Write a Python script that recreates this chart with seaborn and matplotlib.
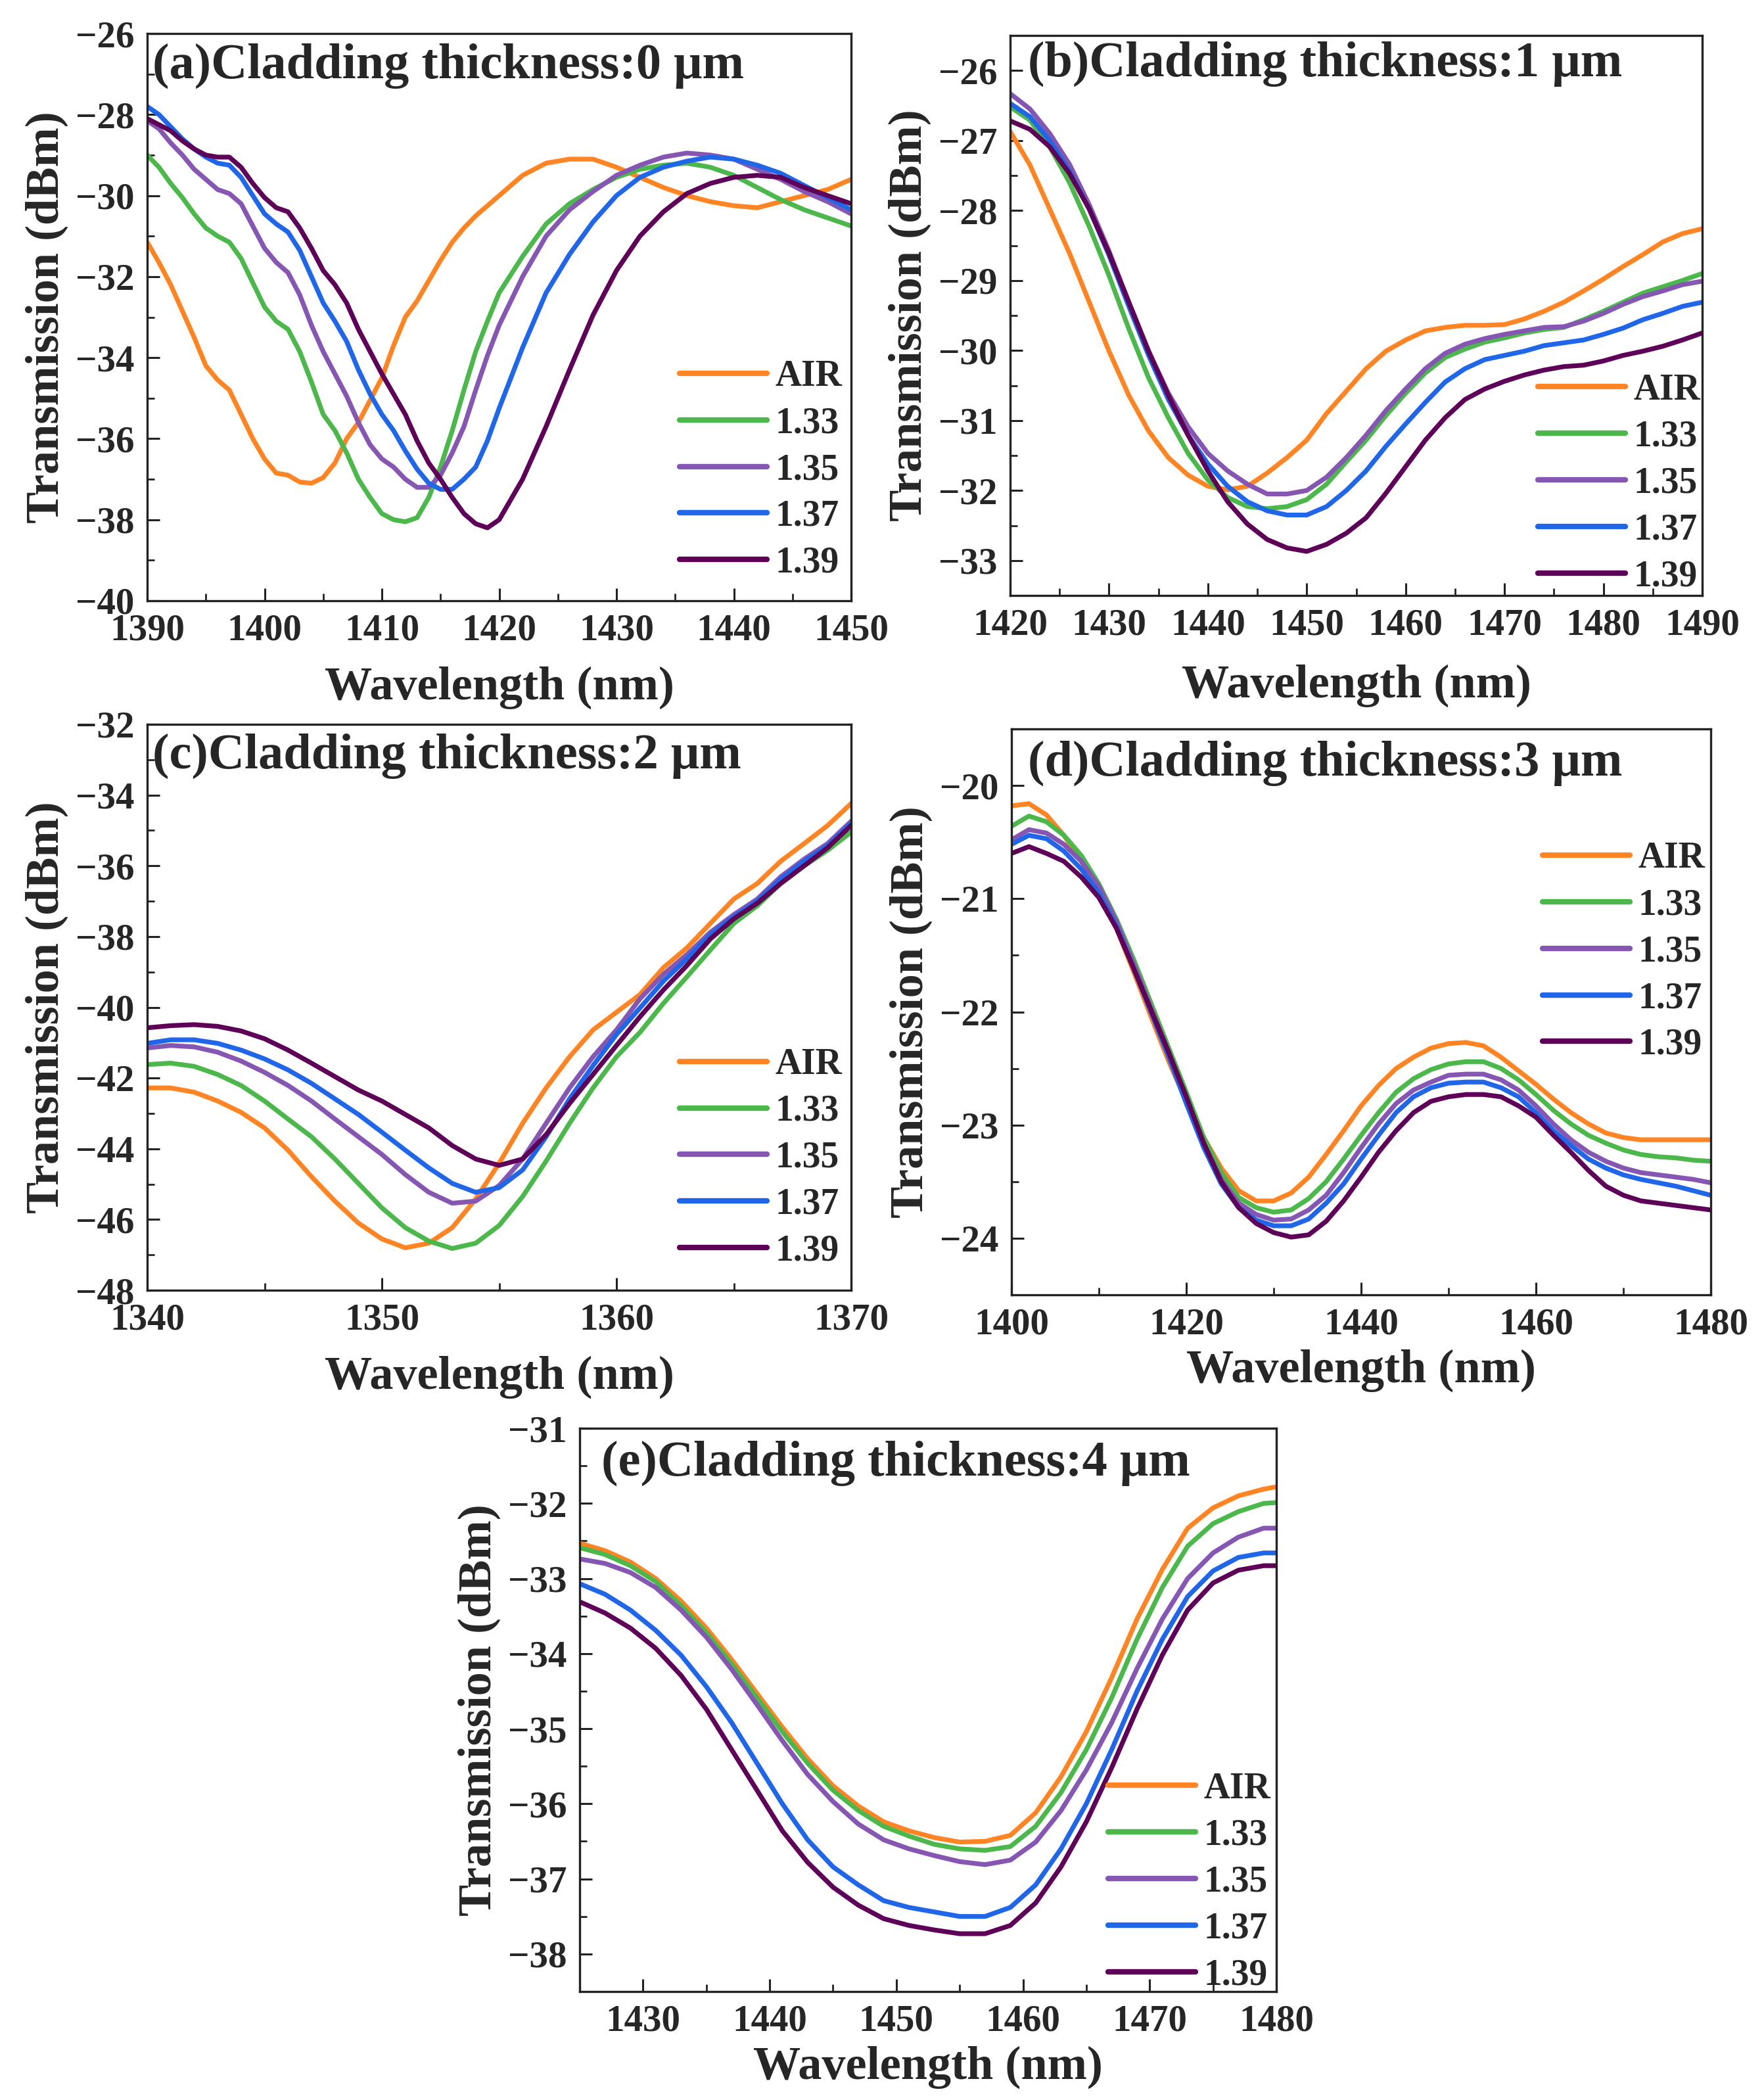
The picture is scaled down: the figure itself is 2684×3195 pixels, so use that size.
import numpy as np
import pandas as pd
import matplotlib
matplotlib.use("Agg")
import matplotlib.pyplot as plt
from matplotlib.ticker import MultipleLocator
import seaborn as sns

sns.set_theme(style="ticks")
plt.rcParams['font.family'] = ['Liberation Serif', 'DejaVu Serif']
plt.rcParams['font.weight'] = 'bold'
plt.rcParams['axes.unicode_minus'] = True

media = ["AIR", "1.33", "1.35", "1.37", "1.39"]
colors = {"AIR": "#FF8424", "1.33": "#4CB84C", "1.35": "#8657B2",
          "1.37": "#1F66E8", "1.39": "#5E0058"}

# ---------------- panel (a) : 0 um ----------------
a_wl = list(range(1390, 1421)) + list(range(1422, 1451, 2))
a_air = [-31.15, -31.65, -32.2, -32.85, -33.5, -34.2, -34.55, -34.8, -35.4, -36.0,
         -36.5, -36.85, -36.9, -37.07, -37.1, -36.96, -36.6, -36.0, -35.6, -35.05,
         -34.5, -33.7, -33.0, -32.6, -32.1, -31.6, -31.15, -30.8, -30.5, -30.25,
         -30.0, -29.5, -29.2, -29.1, -29.1, -29.3, -29.55, -29.8, -30.0, -30.15,
         -30.25, -30.3, -30.15, -30.0, -29.85, -29.6]
a_133 = [-29.0, -29.3, -29.7, -30.05, -30.45, -30.8, -31.0, -31.15, -31.55, -32.15,
         -32.75, -33.1, -33.3, -33.85, -34.6, -35.4, -35.8, -36.35, -37.0, -37.45,
         -37.85, -38.0, -38.05, -37.95, -37.45, -36.7, -35.8, -34.8, -33.85, -33.1,
         -32.4, -31.5, -30.7, -30.2, -29.85, -29.55, -29.35, -29.25, -29.2, -29.3,
         -29.5, -29.8, -30.1, -30.35, -30.55, -30.75]
a_135 = [-28.15, -28.35, -28.7, -29.0, -29.35, -29.6, -29.85, -29.95, -30.2, -30.75,
         -31.3, -31.65, -31.9, -32.45, -33.2, -33.85, -34.4, -34.95, -35.6, -36.15,
         -36.5, -36.7, -37.0, -37.2, -37.2, -36.9, -36.35, -35.7, -34.8, -33.95,
         -33.2, -32.0, -31.0, -30.35, -29.9, -29.5, -29.25, -29.05, -28.95, -29.0,
         -29.1, -29.35, -29.6, -29.9, -30.15, -30.45]
a_137 = [-27.8, -28.0, -28.3, -28.6, -28.85, -29.05, -29.2, -29.25, -29.55, -30.0,
         -30.45, -30.7, -30.9, -31.35, -32.0, -32.65, -33.1, -33.6, -34.3, -34.9,
         -35.4, -35.8, -36.3, -36.75, -37.1, -37.25, -37.25, -37.0, -36.7, -36.05,
         -35.25, -33.75, -32.4, -31.45, -30.65, -30.0, -29.55, -29.3, -29.15, -29.05,
         -29.1, -29.25, -29.45, -29.75, -30.05, -30.35]
a_139 = [-28.1, -28.25, -28.4, -28.65, -28.85, -29.0, -29.05, -29.05, -29.3, -29.7,
         -30.05, -30.3, -30.4, -30.8, -31.3, -31.85, -32.2, -32.65, -33.3, -33.85,
         -34.4, -34.9, -35.4, -36.05, -36.6, -37.0, -37.45, -37.85, -38.1, -38.2,
         -38.0, -37.0, -35.7, -34.3, -32.95, -31.85, -31.0, -30.4, -29.95, -29.7,
         -29.55, -29.5, -29.55, -29.8, -30.0, -30.2]

# ---------------- panel (b) : 1 um ----------------
b_wl = list(range(1420, 1491, 2))
b_air = [-26.87, -27.35, -27.98, -28.61, -29.31, -30.01, -30.64, -31.15, -31.53, -31.78,
         -31.94, -31.99, -31.94, -31.75, -31.53, -31.28, -30.9, -30.58, -30.26, -30.01,
         -29.85, -29.72, -29.67, -29.64, -29.64, -29.63, -29.55, -29.44, -29.31, -29.15,
         -28.98, -28.8, -28.63, -28.45, -28.33, -28.26]
b_133 = [-26.52, -26.71, -27.09, -27.6, -28.23, -28.93, -29.69, -30.39, -30.96, -31.47,
         -31.85, -32.1, -32.23, -32.26, -32.23, -32.13, -31.91, -31.59, -31.28, -30.93,
         -30.61, -30.32, -30.1, -29.98, -29.88, -29.82, -29.75, -29.7, -29.67, -29.56,
         -29.44, -29.31, -29.18, -29.09, -29.0, -28.9]
b_135 = [-26.33, -26.55, -26.9, -27.34, -27.92, -28.58, -29.31, -30.01, -30.61, -31.09,
         -31.47, -31.72, -31.91, -32.05, -32.05, -32.0, -31.81, -31.53, -31.21, -30.86,
         -30.55, -30.26, -30.04, -29.91, -29.83, -29.77, -29.72, -29.67, -29.66, -29.58,
         -29.47, -29.34, -29.23, -29.15, -29.06, -29.01]
b_137 = [-26.47, -26.66, -27.0, -27.44, -27.98, -28.64, -29.37, -30.07, -30.7, -31.21,
         -31.62, -31.94, -32.16, -32.29, -32.35, -32.35, -32.23, -32.0, -31.72, -31.37,
         -31.05, -30.74, -30.45, -30.26, -30.13, -30.07, -30.01, -29.93, -29.89, -29.85,
         -29.77, -29.68, -29.56, -29.47, -29.37, -29.31]
b_139 = [-26.72, -26.84, -27.09, -27.47, -27.98, -28.61, -29.31, -30.01, -30.64, -31.21,
         -31.72, -32.16, -32.48, -32.7, -32.82, -32.87, -32.77, -32.61, -32.39, -32.04,
         -31.66, -31.28, -30.96, -30.7, -30.55, -30.44, -30.35, -30.28, -30.23, -30.21,
         -30.15, -30.07, -30.01, -29.94, -29.85, -29.75]

# ---------------- panel (c) : 2 um ----------------
c_wl = list(range(1340, 1371))
c_air = [-42.28, -42.28, -42.4, -42.65, -42.97, -43.41, -44.04, -44.79, -45.48, -46.1,
         -46.55, -46.8, -46.67, -46.23, -45.42, -44.41, -43.28, -42.28, -41.4, -40.64,
         -40.14, -39.64, -38.88, -38.32, -37.63, -36.94, -36.5, -35.87, -35.37, -34.86,
         -34.24]
c_133 = [-41.62, -41.58, -41.67, -41.9, -42.21, -42.65, -43.16, -43.66, -44.29, -44.98,
         -45.67, -46.23, -46.61, -46.82, -46.67, -46.17, -45.35, -44.35, -43.28, -42.28,
         -41.4, -40.71, -39.89, -39.14, -38.38, -37.63, -37.13, -36.5, -36.0, -35.56,
         -35.05]
c_135 = [-41.15, -41.08, -41.12, -41.27, -41.52, -41.84, -42.21, -42.65, -43.16, -43.66,
         -44.16, -44.73, -45.23, -45.54, -45.48, -45.04, -44.29, -43.28, -42.28, -41.4,
         -40.64, -39.76, -39.07, -38.51, -37.88, -37.38, -36.94, -36.31, -35.81, -35.37,
         -34.74]
c_137 = [-41.02, -40.92, -40.92, -41.02, -41.21, -41.46, -41.77, -42.15, -42.59, -43.03,
         -43.53, -44.04, -44.54, -44.98, -45.23, -45.1, -44.6, -43.66, -42.59, -41.65,
         -40.77, -40.02, -39.26, -38.63, -37.94, -37.44, -37.0, -36.38, -35.87, -35.43,
         -34.8]
c_139 = [-40.58, -40.52, -40.49, -40.54, -40.67, -40.89, -41.21, -41.58, -41.96, -42.34,
         -42.65, -43.03, -43.41, -43.91, -44.29, -44.47, -44.29, -43.6, -42.72, -41.9,
         -41.08, -40.27, -39.51, -38.82, -38.07, -37.5, -37.06, -36.5, -36.0, -35.49,
         -34.86]

# ---------------- panel (d) : 3 um ----------------
d_wl = list(range(1400, 1481, 2))
d_air = [-20.18, -20.16, -20.26, -20.44, -20.67, -20.95, -21.26, -21.65, -22.05, -22.44,
         -22.79, -23.11, -23.38, -23.58, -23.67, -23.67, -23.6, -23.46, -23.26, -23.05,
         -22.83, -22.65, -22.5, -22.4, -22.32, -22.28, -22.27, -22.3, -22.4, -22.52,
         -22.64, -22.77, -22.89, -22.99, -23.07, -23.11, -23.13, -23.13, -23.13, -23.13,
         -23.13]
d_133 = [-20.36, -20.27, -20.32, -20.44, -20.62, -20.87, -21.18, -21.54, -21.93, -22.32,
         -22.71, -23.11, -23.42, -23.64, -23.73, -23.77, -23.75, -23.65, -23.5, -23.3,
         -23.09, -22.89, -22.71, -22.59, -22.51, -22.46, -22.44, -22.44, -22.5, -22.6,
         -22.73, -22.87, -22.99, -23.09, -23.16, -23.22, -23.26, -23.28, -23.29, -23.31,
         -23.32]
d_135 = [-20.48, -20.39, -20.42, -20.52, -20.67, -20.89, -21.2, -21.58, -21.97, -22.36,
         -22.77, -23.16, -23.48, -23.69, -23.79, -23.84, -23.83, -23.75, -23.62, -23.42,
         -23.2, -22.99, -22.81, -22.69, -22.62, -22.56, -22.55, -22.55, -22.6, -22.69,
         -22.83, -22.99, -23.13, -23.24, -23.32, -23.38, -23.42, -23.44, -23.46, -23.48,
         -23.51]
d_137 = [-20.52, -20.44, -20.47, -20.58, -20.74, -20.95, -21.24, -21.62, -22.01, -22.4,
         -22.81, -23.2, -23.52, -23.73, -23.84, -23.89, -23.89, -23.83, -23.69, -23.52,
         -23.3, -23.09, -22.89, -22.75, -22.67, -22.63, -22.62, -22.62, -22.67, -22.75,
         -22.89, -23.05, -23.18, -23.3, -23.38, -23.44, -23.48, -23.51, -23.54, -23.58,
         -23.62]
d_139 = [-20.6, -20.54, -20.6, -20.67, -20.81, -20.99, -21.26, -21.62, -21.99, -22.36,
         -22.75, -23.16, -23.5, -23.73, -23.87, -23.95, -23.99, -23.97, -23.85, -23.67,
         -23.46, -23.24, -23.05, -22.89, -22.79, -22.75, -22.73, -22.73, -22.75, -22.83,
         -22.93, -23.09, -23.24, -23.4, -23.54, -23.62, -23.67, -23.69, -23.71, -23.73,
         -23.75]

# ---------------- panel (e) : 4 um ----------------
e_wl = list(range(1425, 1480, 2)) + [1480]
e_air = [-32.53, -32.63, -32.78, -33.0, -33.3, -33.66, -34.08, -34.53, -34.98, -35.4,
         -35.76, -36.03, -36.24, -36.36, -36.45, -36.51, -36.5, -36.42, -36.12, -35.64,
         -35.04, -34.32, -33.54, -32.88, -32.33, -32.06, -31.9, -31.81, -31.78]
e_133 = [-32.59, -32.68, -32.83, -33.04, -33.36, -33.72, -34.14, -34.59, -35.04, -35.46,
         -35.82, -36.09, -36.3, -36.43, -36.54, -36.6, -36.62, -36.57, -36.3, -35.85,
         -35.28, -34.59, -33.81, -33.12, -32.57, -32.27, -32.11, -32.0, -31.99]
e_135 = [-32.74, -32.8, -32.92, -33.12, -33.42, -33.78, -34.21, -34.68, -35.16, -35.61,
         -35.97, -36.27, -36.48, -36.6, -36.69, -36.77, -36.81, -36.75, -36.51, -36.09,
         -35.55, -34.92, -34.2, -33.54, -33.0, -32.66, -32.45, -32.33, -32.33]
e_137 = [-33.07, -33.21, -33.42, -33.69, -34.02, -34.44, -34.92, -35.46, -36.0, -36.48,
         -36.84, -37.08, -37.29, -37.38, -37.44, -37.5, -37.5, -37.38, -37.08, -36.6,
         -36.0, -35.28, -34.5, -33.81, -33.24, -32.9, -32.72, -32.66, -32.66]
e_139 = [-33.31, -33.46, -33.66, -33.93, -34.29, -34.74, -35.28, -35.82, -36.36, -36.78,
         -37.11, -37.35, -37.53, -37.62, -37.68, -37.73, -37.73, -37.62, -37.32, -36.84,
         -36.24, -35.52, -34.74, -34.02, -33.42, -33.06, -32.89, -32.83, -32.83]

titles = ["(a)Cladding thickness:0 μm", "(b)Cladding thickness:1 μm",
          "(c)Cladding thickness:2 μm", "(d)Cladding thickness:3 μm",
          "(e)Cladding thickness:4 μm"]

panels = [
    dict(wl=a_wl, ys=[a_air, a_133, a_135, a_137, a_139], xlim=(1390, 1450), ylim=(-40, -26),
         xmaj=10, xmin=5, ymaj=2, ymin=1, rect=(224, 51, 1295, 914), tx=0.0075, ty=0.922,
         leg=(0.756, 0.425), xlp=20),
    dict(wl=b_wl, ys=[b_air, b_133, b_135, b_137, b_139], xlim=(1420, 1490), ylim=(-33.5, -25.5),
         xmaj=10, xmin=5, ymaj=1, ymin=0.5, rect=(1537, 54, 2590, 906), tx=0.026, ty=0.927,
         leg=(0.7626, 0.397), xlp=24),
    dict(wl=c_wl, ys=[c_air, c_133, c_135, c_137, c_139], xlim=(1340, 1370), ylim=(-48, -32),
         xmaj=10, xmin=5, ymaj=2, ymin=1, rect=(224, 1102, 1295, 1963), tx=0.0075, ty=0.923,
         leg=(0.756, 0.4285), xlp=20),
    dict(wl=d_wl, ys=[d_air, d_133, d_135, d_137, d_139], xlim=(1400, 1480), ylim=(-24.5, -19.5),
         xmaj=20, xmin=10, ymaj=1, ymin=0.5, rect=(1539, 1109, 2603, 1970), tx=0.0235, ty=0.918,
         leg=(0.759, 0.801), xlp=8),
    dict(wl=e_wl, ys=[e_air, e_133, e_135, e_137, e_139], xlim=(1425, 1480), ylim=(-38.5, -31),
         xmaj=10, xmin=5, ymaj=1, ymin=0.5, rect=(882, 2173, 1942, 3030), tx=0.031, ty=0.916,
         leg=(0.7585, 0.390), xlp=8),
]

W, H = 2684, 3195
fig = plt.figure(figsize=(W / 100, H / 100), dpi=100)
fig.patch.set_facecolor("white")

for p, title in zip(panels, titles):
    x0, y0, x1, y1 = p["rect"]
    ax = fig.add_axes([x0 / W, 1 - y1 / H, (x1 - x0) / W, (y1 - y0) / H])
    rows = []
    for m, ys in zip(media, p["ys"]):
        for w, v in zip(p["wl"], ys):
            rows.append((w, v, m))
    df = pd.DataFrame(rows, columns=["wl", "T", "medium"])
    sns.lineplot(data=df, x="wl", y="T", hue="medium", hue_order=media, palette=colors,
                 estimator=None, sort=False, linewidth=5.2, ax=ax, legend=True)
    ax.set_xlim(*p["xlim"])
    ax.set_ylim(*p["ylim"])
    ax.xaxis.set_major_locator(MultipleLocator(p["xmaj"]))
    ax.xaxis.set_minor_locator(MultipleLocator(p["xmin"]))
    ax.yaxis.set_major_locator(MultipleLocator(p["ymaj"]))
    ax.yaxis.set_minor_locator(MultipleLocator(p["ymin"]))
    ax.tick_params(which="major", direction="in", length=14, width=2.2, labelsize=41,
                   pad=14, color="#222222", top=False, right=False)
    ax.tick_params(which="minor", direction="in", length=8, width=2.0, color="#222222",
                   top=False, right=False)
    for lab in ax.get_xticklabels() + ax.get_yticklabels():
        lab.set_fontweight("bold")
    for s in ax.spines.values():
        s.set_linewidth(2.4)
        s.set_color("#222222")
        s.set_visible(True)
    ax.set_xlabel("Wavelength (nm)", fontsize=52, fontweight="bold", labelpad=p["xlp"])
    ax.set_ylabel("Transmission (dBm)", fontsize=52, fontweight="bold", labelpad=8)
    ax.text(p["tx"], p["ty"], title, transform=ax.transAxes, fontsize=55,
            fontweight="bold", ha="left", va="baseline")
    handles, labels = ax.get_legend_handles_labels()
    for h in handles:
        h.set_linewidth(6.0)
    ax.legend(handles, labels, loc="upper left", bbox_to_anchor=p["leg"], frameon=False,
              prop={"weight": "bold", "size": 40}, handlelength=2.4,
              handletextpad=0.22, labelspacing=0.34, borderpad=0, borderaxespad=0)
    ax.set_facecolor("white")

fig.savefig("out.png", dpi=100, facecolor="white")
